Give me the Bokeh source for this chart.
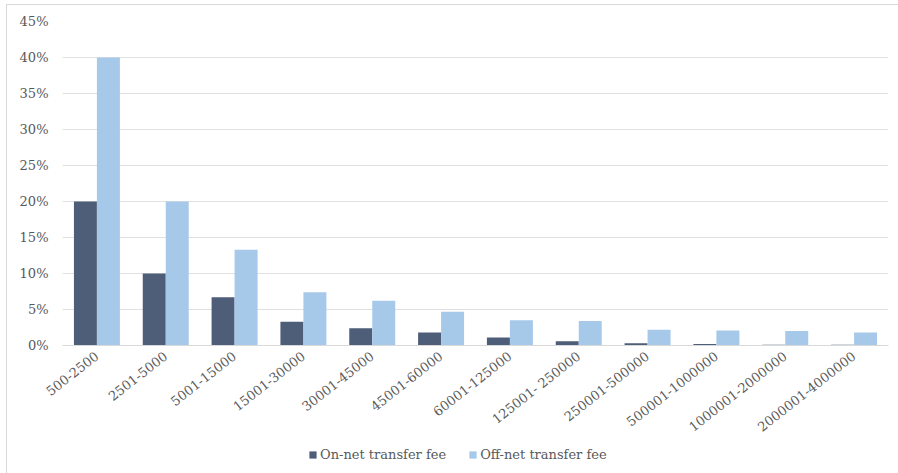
import math
from bokeh.plotting import figure
from bokeh.layouts import column
from bokeh.models import ColumnDataSource, FactorRange, Range1d, NumeralTickFormatter, SingleIntervalTicker, Legend, LegendItem
from bokeh.transform import dodge
from bokeh.embed import file_html
from bokeh.resources import INLINE

categories = ["500-2500", "2501-5000", "5001-15000", "15001-30000", "30001-45000",
              "45001-60000", "60001-125000", "125001- 250000", "250001-500000",
              "500001-1000000", "1000001-2000000", "2000001-4000000"]
on_net = [0.200, 0.100, 0.067, 0.033, 0.024, 0.018, 0.011, 0.006, 0.003, 0.002, 0.001, 0.001]
off_net = [0.400, 0.200, 0.133, 0.074, 0.062, 0.047, 0.035, 0.034, 0.022, 0.021, 0.020, 0.018]
series_names = ["On-net transfer fee", "Off-net transfer fee"]
colors = ["#4E5D78", "#A7C9E9"]
FONT = "DejaVu Serif"
TXT = "#595959"

src = ColumnDataSource(dict(cat=categories, on=on_net, off=off_net))

p = figure(x_range=FactorRange(*categories, range_padding=0), y_range=Range1d(0, 0.45),
           width=891, height=438, output_backend="svg", toolbar_location=None,
           min_border_left=55, min_border_right=10, min_border_top=16, min_border_bottom=97)
p.outline_line_color = None

r1 = p.vbar(x=dodge("cat", -0.167, range=p.x_range), top="on", width=0.334, source=src,
            color=colors[0], line_color=None)
r2 = p.vbar(x=dodge("cat", 0.167, range=p.x_range), top="off", width=0.334, source=src,
            color=colors[1], line_color=None)

p.yaxis.ticker = SingleIntervalTicker(interval=0.05)
p.yaxis.formatter = NumeralTickFormatter(format="0%")
p.yaxis.axis_line_color = None
p.xaxis.axis_line_color = "#d9d9d9"
for ax in (p.xaxis, p.yaxis):
    ax.major_tick_line_color = None
    ax.minor_tick_line_color = None
    ax.major_tick_out = 0
    ax.minor_tick_out = 0
    ax.major_label_text_font = FONT
    ax.major_label_text_font_size = "13px"
    ax.major_label_text_color = TXT
p.yaxis.major_label_standoff = 14
p.xaxis.major_label_standoff = 9
p.xaxis.major_label_orientation = 0.665
p.xgrid.grid_line_color = None
p.ygrid.grid_line_color = "#e0e0e0"

# legend strip below the chart
leg = figure(width=891, height=30, output_backend="svg", toolbar_location=None,
             x_range=Range1d(0, 1), y_range=Range1d(0, 1),
             x_axis_location=None, y_axis_location=None,
             min_border_left=0, min_border_right=0, min_border_top=0, min_border_bottom=0)
leg.grid.visible = False
leg.outline_line_color = None
lsrc = ColumnDataSource(dict(x=[-10], y=[-10]))
d1 = leg.vbar(x="x", top="y", width=0.1, source=lsrc, color=colors[0], line_color=None)
d2 = leg.vbar(x="x", top="y", width=0.1, source=lsrc, color=colors[1], line_color=None)
legend = Legend(items=[LegendItem(label=series_names[0], renderers=[d1]),
                       LegendItem(label=series_names[1], renderers=[d2])],
                orientation="horizontal", location=(246, 11),
                label_text_font=FONT, label_text_font_size="13px",
                label_text_color=TXT, glyph_width=9, glyph_height=9,
                spacing=22, border_line_color=None, background_fill_alpha=0,
                margin=0, padding=3, label_standoff=3)
leg.add_layout(legend, "center")

layout = column(p, leg, margin=(4, 0, 0, 6),
                styles={"border-left": "1px solid #d9d9d9", "border-top": "1px solid #d9d9d9"})

open("out.html", "w").write(file_html(layout, INLINE))
